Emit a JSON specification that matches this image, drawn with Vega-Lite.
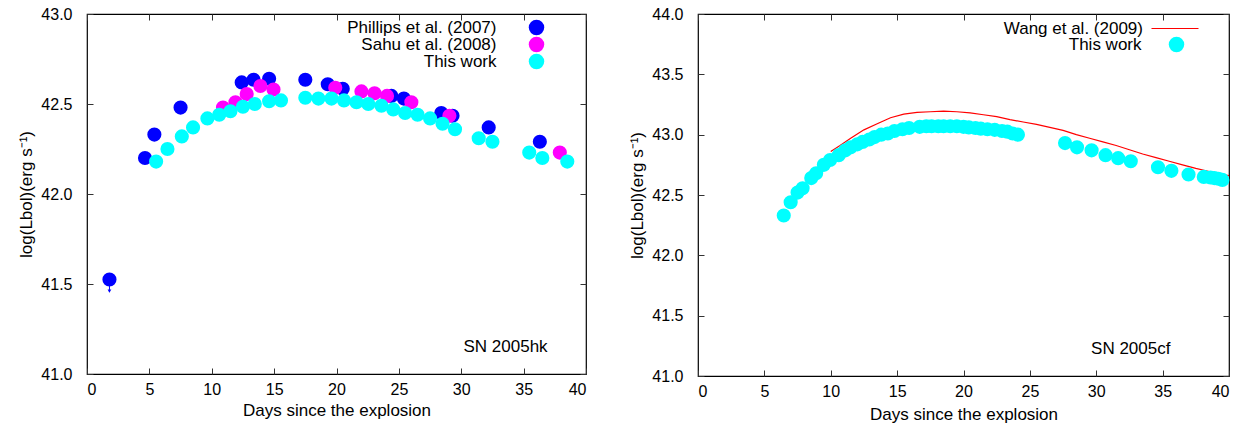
{
  "$schema": "https://vega.github.io/schema/vega-lite/v6.json",
  "padding": {"left": 17, "top": 4, "right": 5, "bottom": 0},
  "background": "white",
  "datasets": {
    "hk": [
      {"series": "Phillips et al. (2007)", "day": 1.8, "L": 41.525},
      {"series": "Phillips et al. (2007)", "day": 4.65, "L": 42.2},
      {"series": "Phillips et al. (2007)", "day": 5.4, "L": 42.33},
      {"series": "Phillips et al. (2007)", "day": 7.5, "L": 42.48},
      {"series": "Phillips et al. (2007)", "day": 12.4, "L": 42.62},
      {"series": "Phillips et al. (2007)", "day": 13.35, "L": 42.635},
      {"series": "Phillips et al. (2007)", "day": 14.6, "L": 42.64},
      {"series": "Phillips et al. (2007)", "day": 17.5, "L": 42.635},
      {"series": "Phillips et al. (2007)", "day": 19.3, "L": 42.61},
      {"series": "Phillips et al. (2007)", "day": 20.5, "L": 42.585},
      {"series": "Phillips et al. (2007)", "day": 24.4, "L": 42.545},
      {"series": "Phillips et al. (2007)", "day": 25.4, "L": 42.53},
      {"series": "Phillips et al. (2007)", "day": 28.4, "L": 42.45},
      {"series": "Phillips et al. (2007)", "day": 29.3, "L": 42.435},
      {"series": "Phillips et al. (2007)", "day": 32.2, "L": 42.37},
      {"series": "Phillips et al. (2007)", "day": 36.3, "L": 42.29},
      {"series": "Sahu et al. (2008)", "day": 10.9, "L": 42.48},
      {"series": "Sahu et al. (2008)", "day": 11.9, "L": 42.51},
      {"series": "Sahu et al. (2008)", "day": 12.8, "L": 42.555},
      {"series": "Sahu et al. (2008)", "day": 13.9, "L": 42.6},
      {"series": "Sahu et al. (2008)", "day": 14.95, "L": 42.58},
      {"series": "Sahu et al. (2008)", "day": 19.9, "L": 42.59},
      {"series": "Sahu et al. (2008)", "day": 22.0, "L": 42.57},
      {"series": "Sahu et al. (2008)", "day": 23.05, "L": 42.56},
      {"series": "Sahu et al. (2008)", "day": 24.05, "L": 42.545},
      {"series": "Sahu et al. (2008)", "day": 26.0, "L": 42.51},
      {"series": "Sahu et al. (2008)", "day": 29.05, "L": 42.435},
      {"series": "Sahu et al. (2008)", "day": 37.9, "L": 42.23},
      {"series": "This work", "day": 5.54, "L": 42.18},
      {"series": "This work", "day": 6.45, "L": 42.25},
      {"series": "This work", "day": 7.6, "L": 42.32},
      {"series": "This work", "day": 8.5, "L": 42.37},
      {"series": "This work", "day": 9.65, "L": 42.42},
      {"series": "This work", "day": 10.6, "L": 42.44},
      {"series": "This work", "day": 11.5, "L": 42.46},
      {"series": "This work", "day": 12.5, "L": 42.485},
      {"series": "This work", "day": 13.45, "L": 42.5},
      {"series": "This work", "day": 14.6, "L": 42.515},
      {"series": "This work", "day": 15.55, "L": 42.52},
      {"series": "This work", "day": 17.5, "L": 42.535},
      {"series": "This work", "day": 18.55, "L": 42.53},
      {"series": "This work", "day": 19.6, "L": 42.53},
      {"series": "This work", "day": 20.6, "L": 42.52},
      {"series": "This work", "day": 21.6, "L": 42.51},
      {"series": "This work", "day": 22.55, "L": 42.5},
      {"series": "This work", "day": 23.6, "L": 42.49},
      {"series": "This work", "day": 24.55, "L": 42.47},
      {"series": "This work", "day": 25.5, "L": 42.45},
      {"series": "This work", "day": 26.5, "L": 42.44},
      {"series": "This work", "day": 27.5, "L": 42.42},
      {"series": "This work", "day": 28.5, "L": 42.39},
      {"series": "This work", "day": 29.5, "L": 42.36},
      {"series": "This work", "day": 31.4, "L": 42.31},
      {"series": "This work", "day": 32.5, "L": 42.29},
      {"series": "This work", "day": 35.45, "L": 42.23},
      {"series": "This work", "day": 36.5, "L": 42.2},
      {"series": "This work", "day": 38.5, "L": 42.18}
    ],
    "limit": [
      {"day": 1.8, "top": 41.5, "bottom": 41.455, "tip": 41.46}
    ],
    "cf": [
      {"series": "This work", "day": 6.46, "L": 42.33},
      {"series": "This work", "day": 6.98, "L": 42.44},
      {"series": "This work", "day": 7.5, "L": 42.52},
      {"series": "This work", "day": 7.88, "L": 42.555},
      {"series": "This work", "day": 8.53, "L": 42.64},
      {"series": "This work", "day": 8.9, "L": 42.68},
      {"series": "This work", "day": 9.48, "L": 42.75},
      {"series": "This work", "day": 9.95, "L": 42.79},
      {"series": "This work", "day": 10.6, "L": 42.83},
      {"series": "This work", "day": 11.1, "L": 42.87},
      {"series": "This work", "day": 11.5, "L": 42.895},
      {"series": "This work", "day": 12.0, "L": 42.92},
      {"series": "This work", "day": 12.4, "L": 42.94},
      {"series": "This work", "day": 12.9, "L": 42.96},
      {"series": "This work", "day": 13.3, "L": 42.98},
      {"series": "This work", "day": 13.8, "L": 43.0},
      {"series": "This work", "day": 14.3, "L": 43.01},
      {"series": "This work", "day": 14.8, "L": 43.03},
      {"series": "This work", "day": 15.4, "L": 43.045},
      {"series": "This work", "day": 15.9, "L": 43.055},
      {"series": "This work", "day": 16.7, "L": 43.065},
      {"series": "This work", "day": 17.2, "L": 43.07},
      {"series": "This work", "day": 17.6, "L": 43.07},
      {"series": "This work", "day": 18.1, "L": 43.07},
      {"series": "This work", "day": 18.5, "L": 43.07},
      {"series": "This work", "day": 19.0, "L": 43.07},
      {"series": "This work", "day": 19.5, "L": 43.07},
      {"series": "This work", "day": 20.0, "L": 43.065},
      {"series": "This work", "day": 20.4, "L": 43.06},
      {"series": "This work", "day": 20.9, "L": 43.055},
      {"series": "This work", "day": 21.3, "L": 43.05},
      {"series": "This work", "day": 21.8, "L": 43.045},
      {"series": "This work", "day": 22.35, "L": 43.04},
      {"series": "This work", "day": 22.9, "L": 43.03},
      {"series": "This work", "day": 23.3, "L": 43.025},
      {"series": "This work", "day": 23.7, "L": 43.01},
      {"series": "This work", "day": 24.1, "L": 43.0},
      {"series": "This work", "day": 27.65, "L": 42.93},
      {"series": "This work", "day": 28.55, "L": 42.895},
      {"series": "This work", "day": 29.65, "L": 42.87},
      {"series": "This work", "day": 30.7, "L": 42.83},
      {"series": "This work", "day": 31.65, "L": 42.805},
      {"series": "This work", "day": 32.6, "L": 42.78},
      {"series": "This work", "day": 34.65, "L": 42.73},
      {"series": "This work", "day": 35.66, "L": 42.7},
      {"series": "This work", "day": 36.95, "L": 42.67},
      {"series": "This work", "day": 38.1, "L": 42.65},
      {"series": "This work", "day": 38.6, "L": 42.645},
      {"series": "This work", "day": 38.9, "L": 42.64},
      {"series": "This work", "day": 39.2, "L": 42.635},
      {"series": "This work", "day": 39.5, "L": 42.625}
    ],
    "wang": [
      {"model": "Wang et al. (2009)", "day": 10.0, "L": 42.86},
      {"model": "Wang et al. (2009)", "day": 10.7, "L": 42.91},
      {"model": "Wang et al. (2009)", "day": 11.5, "L": 42.97},
      {"model": "Wang et al. (2009)", "day": 12.5, "L": 43.04},
      {"model": "Wang et al. (2009)", "day": 13.5, "L": 43.09},
      {"model": "Wang et al. (2009)", "day": 14.5, "L": 43.14},
      {"model": "Wang et al. (2009)", "day": 15.5, "L": 43.17},
      {"model": "Wang et al. (2009)", "day": 16.5, "L": 43.185},
      {"model": "Wang et al. (2009)", "day": 17.5, "L": 43.19},
      {"model": "Wang et al. (2009)", "day": 18.5, "L": 43.195},
      {"model": "Wang et al. (2009)", "day": 19.5, "L": 43.19},
      {"model": "Wang et al. (2009)", "day": 20.5, "L": 43.18},
      {"model": "Wang et al. (2009)", "day": 21.5, "L": 43.165},
      {"model": "Wang et al. (2009)", "day": 22.5, "L": 43.15},
      {"model": "Wang et al. (2009)", "day": 23.5, "L": 43.125},
      {"model": "Wang et al. (2009)", "day": 24.5, "L": 43.105},
      {"model": "Wang et al. (2009)", "day": 25.5, "L": 43.085},
      {"model": "Wang et al. (2009)", "day": 26.5, "L": 43.06},
      {"model": "Wang et al. (2009)", "day": 27.5, "L": 43.035},
      {"model": "Wang et al. (2009)", "day": 28.5, "L": 43.0},
      {"model": "Wang et al. (2009)", "day": 29.5, "L": 42.97},
      {"model": "Wang et al. (2009)", "day": 30.5, "L": 42.94},
      {"model": "Wang et al. (2009)", "day": 31.5, "L": 42.91},
      {"model": "Wang et al. (2009)", "day": 32.5, "L": 42.875},
      {"model": "Wang et al. (2009)", "day": 33.5, "L": 42.84},
      {"model": "Wang et al. (2009)", "day": 34.5, "L": 42.81},
      {"model": "Wang et al. (2009)", "day": 35.5, "L": 42.78},
      {"model": "Wang et al. (2009)", "day": 36.5, "L": 42.75},
      {"model": "Wang et al. (2009)", "day": 37.5, "L": 42.72},
      {"model": "Wang et al. (2009)", "day": 38.5, "L": 42.695},
      {"model": "Wang et al. (2009)", "day": 39.5, "L": 42.67},
      {"model": "Wang et al. (2009)", "day": 40.0, "L": 42.66}
    ],
    "notes": [
      {"panel": "hk", "label": "SN 2005hk", "day": 33.55, "L": 41.15},
      {"panel": "cf", "label": "SN 2005cf", "day": 32.6, "L": 41.22}
    ]
  },
  "hconcat": [
    {
      "width": 499,
      "height": 360,
      "layer": [
        {
          "data": {"name": "limit"},
          "mark": {"type": "rule", "color": "#0000ff", "strokeWidth": 1},
          "encoding": {
            "x": {"field": "day", "type": "quantitative", "scale": {"domain": [0, 40], "nice": false, "padding": 0}, "axis": null},
            "y": {"field": "top", "type": "quantitative", "scale": {"domain": [41, 43], "nice": false, "padding": 0}, "axis": null},
            "y2": {"field": "bottom"}
          }
        },
        {
          "data": {"name": "limit"},
          "mark": {"type": "point", "shape": "triangle-down", "filled": true, "color": "#0000ff", "size": 14, "opacity": 1},
          "encoding": {
            "x": {"field": "day", "type": "quantitative", "axis": null},
            "y": {"field": "tip", "type": "quantitative", "axis": null}
          }
        },
        {
          "data": {"name": "hk"},
          "mark": {"type": "point", "filled": true, "opacity": 1, "size": 200, "strokeWidth": 0},
          "encoding": {
            "x": {"field": "day", "type": "quantitative", "title": "Days since the explosion",
                  "axis": {"orient": "bottom", "values": [0, 5, 10, 15, 20, 25, 30, 35, 40], "format": "d", "labelPadding": 13, "titlePadding": 5}},
            "y": {"field": "L", "type": "quantitative", "title": "log(Lbol)(erg s⁻¹)",
                  "axis": {"orient": "left", "values": [41, 41.5, 42, 42.5, 43], "format": ".1f", "labelPadding": 21, "titlePadding": 5}},
            "color": {
              "field": "series", "type": "nominal",
              "scale": {"domain": ["Phillips et al. (2007)", "Sahu et al. (2008)", "This work"], "range": ["#0000ff", "#ff00ff", "#00ffff"]},
              "legend": {"title": null, "orient": "none", "legendX": 441, "legendY": 5, "labelAlign": "right", "labelOffset": -48.5, "symbolSize": 240, "symbolType": "circle", "rowPadding": -2, "padding": 0}
            }
          }
        },
        {
          "data": {"name": "notes"},
          "transform": [{"filter": "datum.panel === 'hk'"}],
          "mark": {"type": "text", "fontSize": 17, "font": "Liberation Sans", "color": "#000"},
          "encoding": {
            "x": {"field": "day", "type": "quantitative", "axis": {"orient": "top", "labels": false, "title": null, "values": [0, 5, 10, 15, 20, 25, 30, 35, 40]}},
            "y": {"field": "L", "type": "quantitative", "axis": {"orient": "right", "labels": false, "title": null, "values": [41, 41.5, 42, 42.5, 43]}},
            "text": {"field": "label"}
          }
        }
      ],
      "resolve": {"axis": {"x": "independent", "y": "independent"}}
    },
    {
      "width": 531,
      "height": 362,
      "layer": [
        {
          "data": {"name": "wang"},
          "mark": {"type": "line", "strokeWidth": 1.2},
          "encoding": {
            "x": {"field": "day", "type": "quantitative", "scale": {"domain": [0, 40], "nice": false, "padding": 0}, "axis": null},
            "y": {"field": "L", "type": "quantitative", "scale": {"domain": [41, 44], "nice": false, "padding": 0}, "axis": null},
            "stroke": {
              "field": "model", "type": "nominal",
              "scale": {"domain": ["Wang et al. (2009)"], "range": ["#ff0000"]},
              "legend": {"title": null, "orient": "none", "legendX": 1063.5, "legendY": -10, "labelAlign": "right", "labelOffset": -56.5, "symbolSize": 2209, "symbolType": "stroke", "symbolStrokeWidth": 1.2, "padding": 0}
            }
          }
        },
        {
          "data": {"name": "cf"},
          "mark": {"type": "point", "filled": true, "opacity": 1, "size": 200, "strokeWidth": 0},
          "encoding": {
            "x": {"field": "day", "type": "quantitative", "title": "Days since the explosion",
                  "axis": {"orient": "bottom", "values": [0, 5, 10, 15, 20, 25, 30, 35, 40], "format": "d", "labelPadding": 13, "titlePadding": 7}},
            "y": {"field": "L", "type": "quantitative", "title": "log(Lbol)(erg s⁻¹)",
                  "axis": {"orient": "left", "values": [41, 41.5, 42, 42.5, 43, 43.5, 44], "format": ".1f", "labelPadding": 21, "titlePadding": 5}},
            "fill": {
              "field": "series", "type": "nominal",
              "scale": {"domain": ["This work"], "range": ["#00ffff"]},
              "legend": {"title": null, "orient": "none", "legendX": 1081, "legendY": 22, "labelAlign": "right", "labelOffset": -43.5, "symbolSize": 240, "symbolType": "circle", "padding": 0}
            }
          }
        },
        {
          "data": {"name": "notes"},
          "transform": [{"filter": "datum.panel === 'cf'"}],
          "mark": {"type": "text", "fontSize": 17, "font": "Liberation Sans", "color": "#000"},
          "encoding": {
            "x": {"field": "day", "type": "quantitative", "axis": {"orient": "top", "labels": false, "title": null, "values": [0, 5, 10, 15, 20, 25, 30, 35, 40]}},
            "y": {"field": "L", "type": "quantitative", "axis": {"orient": "right", "labels": false, "title": null, "values": [41, 41.5, 42, 42.5, 43, 43.5, 44]}},
            "text": {"field": "label"}
          }
        }
      ],
      "resolve": {"axis": {"x": "independent", "y": "independent"}}
    }
  ],
  "spacing": 40,
  "config": {
    "view": {"stroke": "#000", "strokeWidth": 1.2},
    "font": "Liberation Sans",
    "axis": {
      "domain": false, "grid": false, "tickSize": -6, "tickColor": "#333", "tickWidth": 1,
      "labelFont": "Liberation Sans", "labelFontSize": 16, "labelColor": "#000",
      "titleFont": "Liberation Sans", "titleFontSize": 17, "titleFontWeight": "normal", "titleColor": "#000"
    },
    "legend": {"labelFont": "Liberation Sans", "labelFontSize": 17, "labelColor": "#000", "labelLimit": 300}
  }
}
